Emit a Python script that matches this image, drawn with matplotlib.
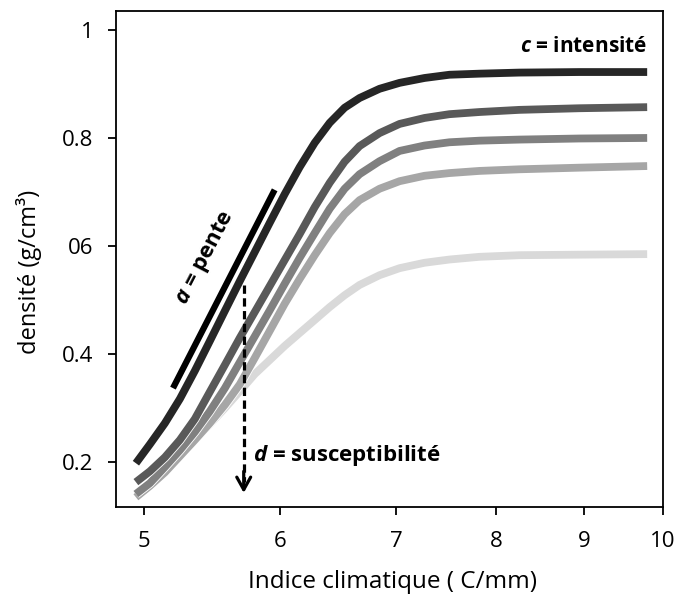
import matplotlib
matplotlib.use("Agg")
import matplotlib.pyplot as plt
import matplotlib.patheffects as pe
from matplotlib.ticker import FixedLocator, FixedFormatter, NullLocator

plt.rcParams['font.family'] = ['Open Sans', 'DejaVu Sans']
plt.rcParams['mathtext.fontset'] = 'custom'
plt.rcParams['mathtext.rm'] = 'Open Sans'
plt.rcParams['mathtext.bf'] = 'Open Sans:italic:bold'

# climatic index, shared by all five curves
x_grid = [4.947, 5.040, 5.142, 5.246, 5.352, 5.460, 5.571, 5.683, 5.798, 5.915,
          6.034, 6.156, 6.281, 6.408, 6.537, 6.669, 6.849, 7.035, 7.273, 7.519,
          7.826, 8.255, 8.942, 9.791]

# density, darkest (highest intensity) to lightest
y_dark = [0.198, 0.233, 0.272, 0.317, 0.369, 0.424, 0.480, 0.535, 0.589, 0.643,
          0.696, 0.746, 0.791, 0.828, 0.856, 0.874, 0.891, 0.902, 0.911, 0.917,
          0.919, 0.921, 0.922, 0.922]
y_c2 = [0.163, 0.183, 0.209, 0.241, 0.280, 0.330, 0.380, 0.430, 0.478, 0.526,
        0.574, 0.622, 0.672, 0.717, 0.756, 0.785, 0.809, 0.826, 0.837, 0.844,
        0.848, 0.852, 0.855, 0.857]
y_c3 = [0.141, 0.161, 0.191, 0.222, 0.256, 0.294, 0.337, 0.385, 0.433, 0.481,
        0.530, 0.578, 0.624, 0.669, 0.706, 0.733, 0.757, 0.776, 0.786, 0.792,
        0.795, 0.797, 0.799, 0.800]
y_c4 = [0.135, 0.156, 0.181, 0.211, 0.241, 0.272, 0.306, 0.344, 0.393, 0.443,
        0.493, 0.539, 0.583, 0.624, 0.659, 0.685, 0.706, 0.720, 0.730, 0.735,
        0.739, 0.742, 0.745, 0.748]
y_light = [0.141, 0.159, 0.185, 0.213, 0.241, 0.270, 0.300, 0.331, 0.363, 0.389,
           0.415, 0.439, 0.463, 0.487, 0.509, 0.528, 0.546, 0.559, 0.569, 0.575,
           0.580, 0.583, 0.584, 0.585]

curves = [(y_light, '#d9d9d9'),
          (y_c4, '#a6a6a6'),
          (y_c3, '#808080'),
          (y_c2, '#595959'),
          (y_dark, '#262626')]

x_ticks = [5, 6, 7, 8, 9, 10]
x_labels = ['5', '6', '7', '8', '9', '10']
y_ticks = [0.2, 0.4, 0.6, 0.8, 1.0]
y_labels = ['0.2', '0.4', '06', '0.8', '1']

# slope marker and susceptibility arrow
slope_x = [5.198, 5.954]
slope_y = [0.337, 0.704]
arrow_x = 5.713
arrow_top, arrow_bottom = 0.528, 0.143

fig = plt.figure(figsize=(6.77, 5.94), dpi=100)
ax = fig.add_axes([0.1713, 0.1465, 0.8080, 0.8350])

lw = 5.6
for ys, col in curves:
    ax.plot(x_grid, ys, color=col, lw=lw, solid_capstyle='butt', solid_joinstyle='round',
            path_effects=[pe.Stroke(linewidth=lw + 1.2, foreground='white'), pe.Normal()])

ax.plot(slope_x, slope_y, color='black', lw=4.5, solid_capstyle='butt')

# dashed shaft, solid open head
ax.plot([arrow_x, arrow_x], [arrow_top, arrow_bottom + 0.02], color='black', lw=2.3,
        linestyle=(0, (2.6, 1.4)), dash_capstyle='butt')
ax.annotate('', xy=(arrow_x, arrow_bottom), xytext=(arrow_x, arrow_bottom + 0.04),
            arrowprops=dict(arrowstyle='->,head_length=0.9,head_width=0.5',
                            mutation_scale=10, color='black', lw=2.3,
                            shrinkA=0, shrinkB=0))

ax.text(9.786, 0.970, r'$\mathbf{c}$ = intensité', fontsize=15, fontweight='bold',
        ha='right', va='center')
ax.text(5.424, 0.578, r'$\mathbf{a}$ = pente', fontsize=16, fontweight='bold',
        rotation=62.5, ha='center', va='center', rotation_mode='anchor')
ax.text(5.782, 0.213, r'$\mathbf{d}$ = susceptibilité', fontsize=16, fontweight='bold',
        ha='left', va='center')

ax.set_xscale('log')
ax.set_xlim(4.817, 10)
ax.set_ylim(0.117, 1.035)
ax.xaxis.set_major_locator(FixedLocator(x_ticks))
ax.xaxis.set_major_formatter(FixedFormatter(x_labels))
ax.xaxis.set_minor_locator(NullLocator())
ax.yaxis.set_major_locator(FixedLocator(y_ticks))
ax.yaxis.set_major_formatter(FixedFormatter(y_labels))

ax.tick_params(axis='both', direction='out', length=6, width=1.3, labelsize=16)
ax.tick_params(axis='x', pad=11)
ax.tick_params(axis='y', pad=10)
for s in ax.spines.values():
    s.set_linewidth(1.3)

ax.set_xlabel('Indice climatique ( C/mm)', fontsize=17.5)
ax.set_ylabel('densité (g/cm³)', fontsize=17)
ax.xaxis.set_label_coords(0.505, -0.127)
ax.yaxis.set_label_coords(-0.135, 0.474)

fig.savefig('out.png', dpi=100)
